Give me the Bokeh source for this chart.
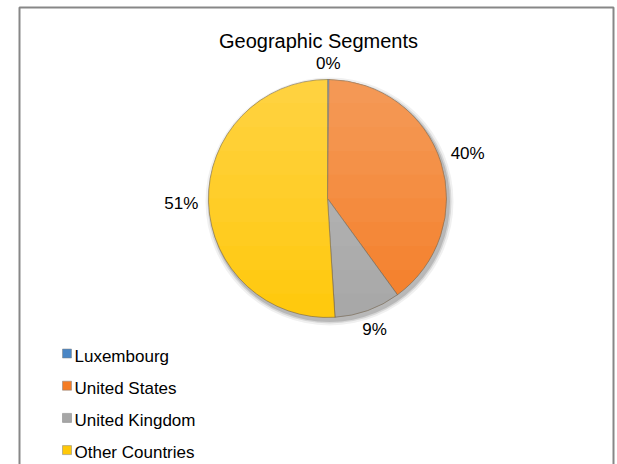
import numpy as np
from bokeh.plotting import figure
from bokeh.models import Range1d, ColumnDataSource
from bokeh.core.properties import value
from bokeh.embed import file_html
from bokeh.resources import INLINE

# ---- data ----
title_text = "Geographic Segments"
categories = ["Luxembourg", "United States", "United Kingdom", "Other Countries"]
shares = [0.2, 39.8, 9.0, 51.0]          # percent of total
pct_labels = ["0%", "40%", "9%", "51%"]
colors = ["#4A86C5", "#F47C24", "#A6A6A6", "#FFC808"]

# ---- layout (page pixel coordinates) ----
OX, OY = 0, 0
W, H = 617, 464
FONT = "Liberation Sans"

p = figure(width=W, height=H, x_range=Range1d(OX, OX + W), y_range=Range1d(OY + H, OY),
           output_backend="svg", toolbar_location=None, min_border=0,
           x_axis_type=None, y_axis_type=None)
p.grid.visible = False
p.outline_line_color = None
p.background_fill_color = "white"
p.border_fill_color = "white"

# chart border
p.quad(left=[19], right=[613], top=[7], bottom=[480], fill_color=None,
       line_color="#878787", line_width=2)

# title (vertical centre of the capitals)
p.text(x=[318], y=[40], text=[title_text], text_font=value(FONT), text_font_size="20px",
       text_color="#000000", text_align="center", text_baseline="middle")

# pie
cx, cy, r = 327, 198, 119
frac = np.array(shares) / np.sum(shares)
cum = np.concatenate([[0], np.cumsum(frac)])
start = np.pi / 2 - 2 * np.pi * cum[:-1]
end = np.pi / 2 - 2 * np.pi * cum[1:]

# soft shadow
for k, a in [(5, 0.06), (3, 0.10), (1.5, 0.14)]:
    p.circle(x=[cx + 2], y=[cy + 3], radius=r + k, radius_units="screen",
             fill_color="#000000", fill_alpha=a, line_color=None)

src = ColumnDataSource(dict(start=start, end=end, color=colors, cat=categories))
p.wedge(x=cx, y=cy, radius=r, radius_units="screen", start_angle="start", end_angle="end",
        direction="clock", fill_color="color", line_color="#6B5A40", line_alpha=0.55,
        line_width=1, source=src)

# vertical light gradient over the pie (stacked circular segments from the top)
N = 10
xs, ys = [], []
for k in range(1, N + 1):
    depth = 2 * r * k / N
    t0 = np.arccos(np.clip((r - depth) / r, -1, 1))
    t = np.linspace(-t0, t0, 80)
    xs.append(cx + r * np.sin(t))
    ys.append(cy - r * np.cos(t))
p.patches(xs=xs, ys=ys, fill_color="#FFFFFF", fill_alpha=0.028, line_color=None)

# data labels, outside end
mid = 2 * np.pi * (cum[:-1] + cum[1:]) / 2   # clockwise from top
dx, dy = np.sin(mid), -np.cos(mid)
lab_fs = 17
widths = np.array([(len(t) - 1) * 0.556 + 0.889 for t in pct_labels]) * lab_fs
cap = 0.716 * lab_fs
gap = 10
ext = np.abs(dx) * widths / 2 + np.abs(dy) * cap / 2
R = r + gap + ext
lx = cx + dx * R
ly = cy + dy * R
p.text(x=lx, y=ly, text=pct_labels, text_font=value(FONT), text_font_size=f"{lab_fs}px",
       text_color="#000000", text_align="center", text_baseline="middle")

# legend
row0, step = 355.5, 32.2
rows = row0 + step * np.arange(len(categories))
p.rect(x=66.5, y=rows - 2.5, width=9, height=9, width_units="screen", height_units="screen",
       fill_color=colors, line_color="#7F7F7F", line_alpha=0.5)
p.text(x=74, y=rows, text=categories, text_font=value(FONT), text_font_size="17px",
       text_color="#000000", text_align="left", text_baseline="middle")

open("out.html", "w").write(file_html(p, INLINE))
